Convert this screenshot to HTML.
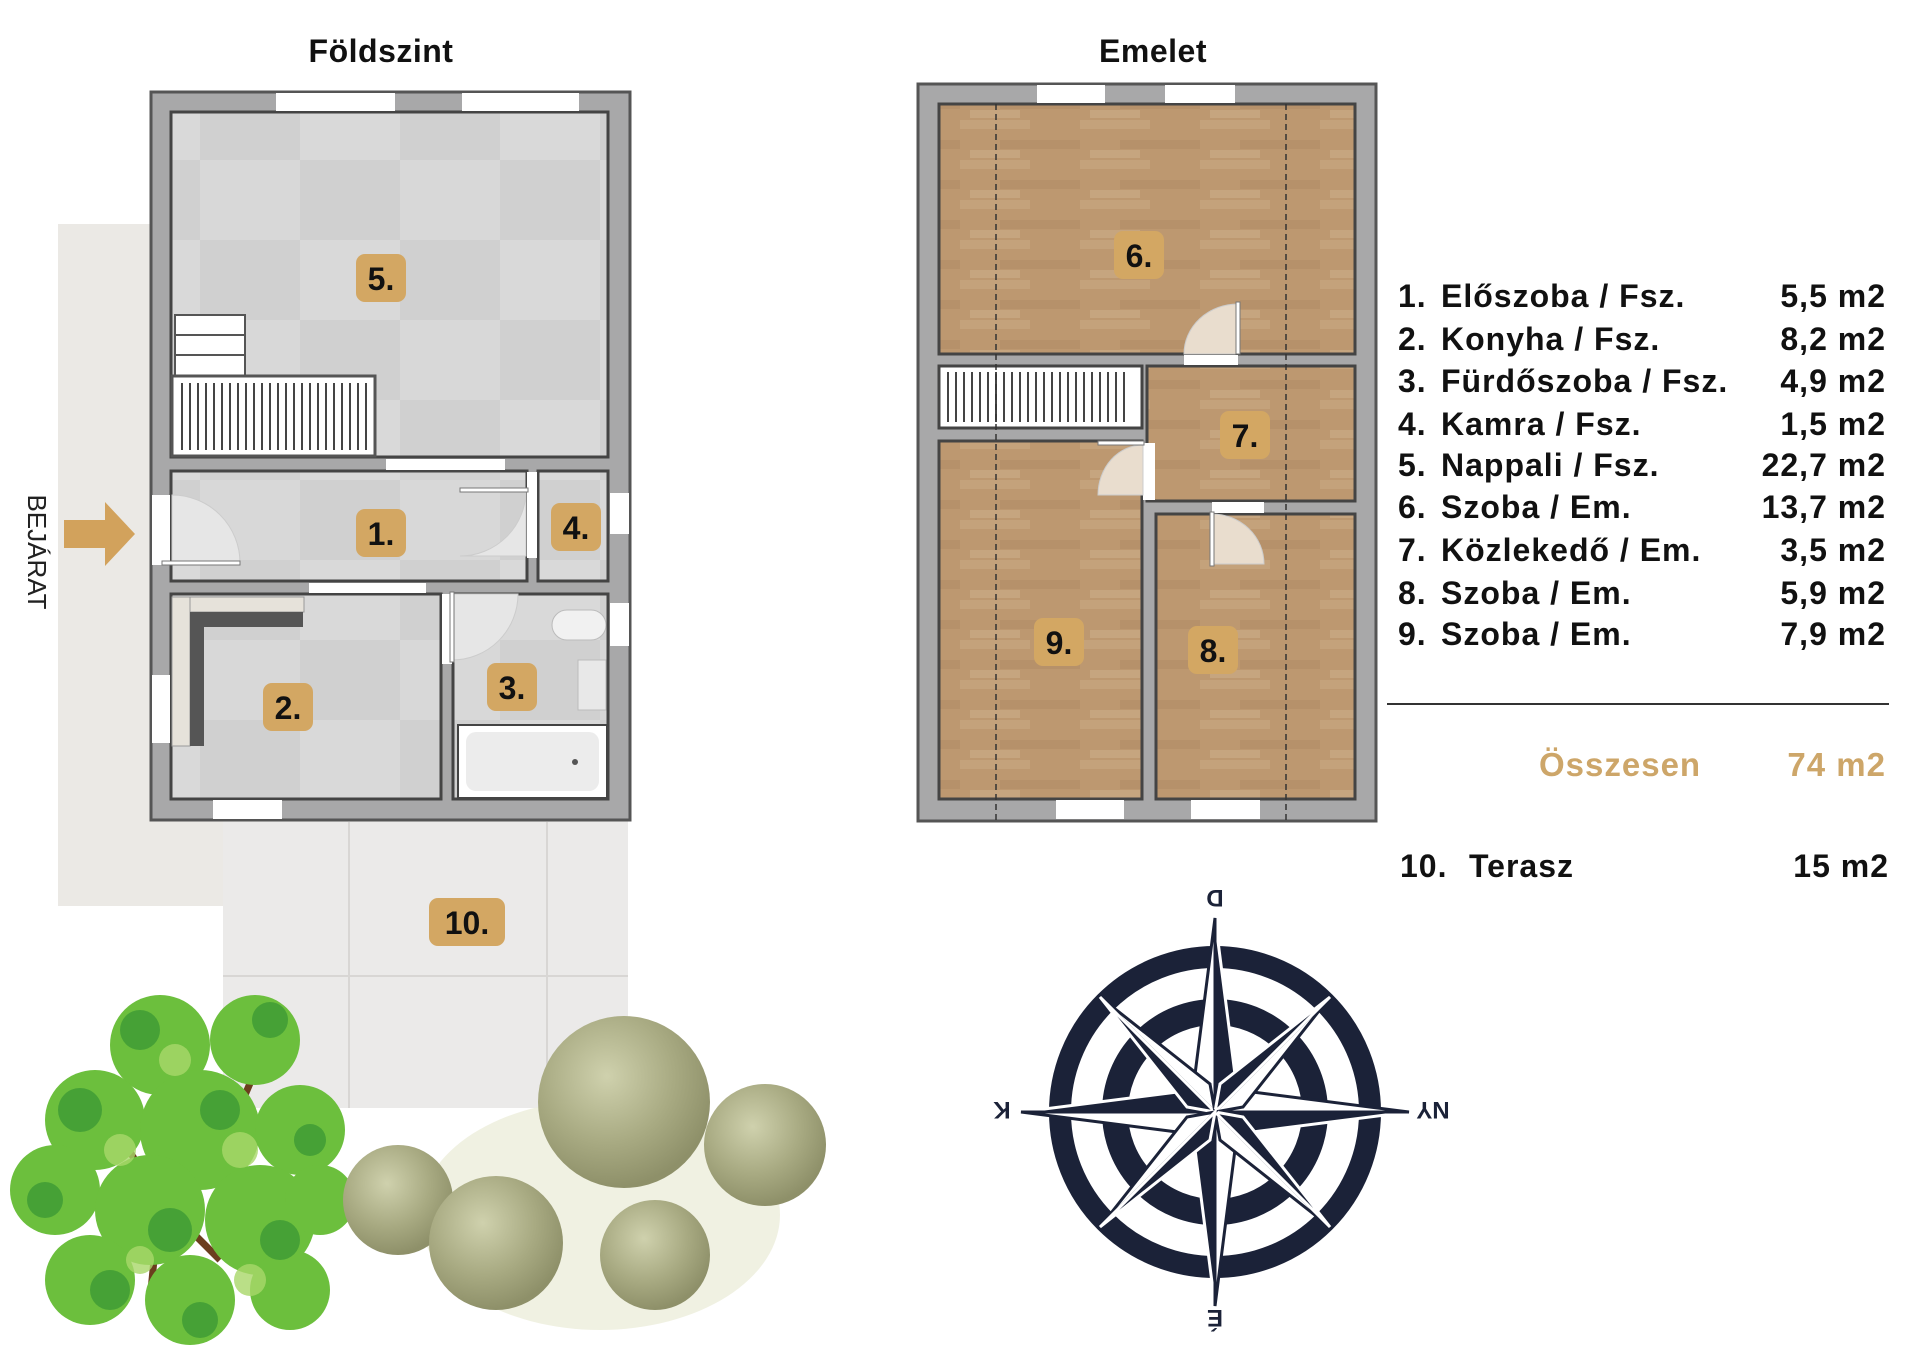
<!DOCTYPE html>
<html><head><meta charset="utf-8"><style>
html,body{margin:0;padding:0;background:#fff;}
svg{display:block;}
text{font-family:"Liberation Sans",sans-serif;}
</style></head><body>
<svg width="1920" height="1357" viewBox="0 0 1920 1357" xmlns="http://www.w3.org/2000/svg">
<defs>
<pattern id="tile" width="200" height="160" patternUnits="userSpaceOnUse">
<rect width="200" height="160" fill="#d0d0d0"/><rect width="100" height="80" fill="#d8d8d8"/><rect x="100" y="80" width="100" height="80" fill="#d9d9d9"/>
</pattern>
<pattern id="wood" width="120" height="40" patternUnits="userSpaceOnUse">
<rect width="120" height="40" fill="#bd9870"/><rect y="0" width="70" height="9" fill="#c4a27b"/><rect x="40" y="20" width="80" height="9" fill="#b6916a"/><rect x="10" y="30" width="50" height="8" fill="#c6a57f"/>
</pattern>
<radialGradient id="bush" cx="40%" cy="35%" r="65%"><stop offset="0" stop-color="#cfd1ad"/><stop offset="0.6" stop-color="#a8aa82"/><stop offset="1" stop-color="#8e9069"/></radialGradient>
</defs>

<text x="381" y="62" font-size="32" font-weight="bold" text-anchor="middle" fill="#111" letter-spacing="0.5">Földszint</text>
<text x="1153" y="62" font-size="32" font-weight="bold" text-anchor="middle" fill="#111" letter-spacing="0.5">Emelet</text>

<rect x="58" y="224" width="96" height="682" fill="#ebe9e5"/>
<rect x="58" y="820" width="170" height="86" fill="#ebe9e5"/>
<rect x="223" y="820" width="405" height="288" fill="#ebeae9"/>
<line x1="349" y1="822" x2="349" y2="1108" stroke="#d8d6d4" stroke-width="2"/>
<line x1="547" y1="822" x2="547" y2="1108" stroke="#d8d6d4" stroke-width="2"/>
<line x1="223" y1="976" x2="628" y2="976" stroke="#d8d6d4" stroke-width="2"/>

<polygon points="64,520 105,520 105,502 135,534 105,566 105,548 64,548" fill="#d2a25c"/>
<text transform="translate(28,552) rotate(90)" font-size="26" text-anchor="middle" fill="#222">BEJÁRAT</text>

<rect x="151" y="92" width="479" height="728" fill="#a8a8a9" stroke="#555" stroke-width="3"/>
<rect x="171" y="112" width="437" height="345" fill="url(#tile)" stroke="#444" stroke-width="3"/>
<rect x="171" y="471" width="356" height="110" fill="url(#tile)" stroke="#444" stroke-width="3"/>
<rect x="538" y="471" width="70" height="110" fill="url(#tile)" stroke="#444" stroke-width="3"/>
<rect x="171" y="594" width="270" height="205" fill="url(#tile)" stroke="#444" stroke-width="3"/>
<rect x="453" y="594" width="155" height="205" fill="url(#tile)" stroke="#444" stroke-width="3"/>
<rect x="276" y="93" width="119" height="18" fill="#fff"/>
<rect x="462" y="93" width="117" height="18" fill="#fff"/>
<rect x="386" y="459" width="119" height="11" fill="#fff"/>
<rect x="309" y="583" width="117" height="10" fill="#fff"/>
<rect x="213" y="800" width="69" height="19" fill="#fff"/>
<rect x="152" y="495" width="18" height="70" fill="#fff"/>
<rect x="152" y="675" width="18" height="68" fill="#fff"/>
<rect x="610" y="493" width="19" height="41" fill="#fff"/>
<rect x="610" y="603" width="19" height="43" fill="#fff"/>
<path d="M172,495 A68,68 0 0 1 240,563 L172,563 Z" fill="#e6e6e6" stroke="#ccc"/>
<rect x="162" y="561" width="78" height="4" fill="#fff" stroke="#777"/>
<rect x="527" y="472" width="10" height="86" fill="#fff"/>
<path d="M526,490 A66,66 0 0 1 460,556 L526,556 Z" fill="#e6e6e6" stroke="#ccc"/>
<rect x="460" y="488" width="68" height="4" fill="#fff" stroke="#777"/>
<rect x="442" y="594" width="10" height="70" fill="#fff"/>
<path d="M452,594 L518,594 A66,66 0 0 1 452,660 Z" fill="#e6e6e6" stroke="#ccc"/>
<rect x="450" y="592" width="4" height="70" fill="#fff" stroke="#777"/>
<rect x="175" y="315" width="70" height="61" fill="#fff" stroke="#555" stroke-width="2"/>
<line x1="175" y1="335" x2="245" y2="335" stroke="#555" stroke-width="2"/>
<line x1="175" y1="355" x2="245" y2="355" stroke="#555" stroke-width="2"/>
<rect x="172" y="376" width="203" height="80" fill="#fff" stroke="#555" stroke-width="3"/>
<g stroke="#444" stroke-width="2">
<line x1="182" y1="383" x2="182" y2="450"/><line x1="190" y1="383" x2="190" y2="450"/><line x1="198" y1="383" x2="198" y2="450"/><line x1="206" y1="383" x2="206" y2="450"/><line x1="214" y1="383" x2="214" y2="450"/><line x1="222" y1="383" x2="222" y2="450"/><line x1="230" y1="383" x2="230" y2="450"/><line x1="238" y1="383" x2="238" y2="450"/><line x1="246" y1="383" x2="246" y2="450"/><line x1="254" y1="383" x2="254" y2="450"/><line x1="262" y1="383" x2="262" y2="450"/><line x1="270" y1="383" x2="270" y2="450"/><line x1="278" y1="383" x2="278" y2="450"/><line x1="286" y1="383" x2="286" y2="450"/><line x1="294" y1="383" x2="294" y2="450"/><line x1="302" y1="383" x2="302" y2="450"/><line x1="310" y1="383" x2="310" y2="450"/><line x1="318" y1="383" x2="318" y2="450"/><line x1="326" y1="383" x2="326" y2="450"/><line x1="334" y1="383" x2="334" y2="450"/><line x1="342" y1="383" x2="342" y2="450"/><line x1="350" y1="383" x2="350" y2="450"/><line x1="358" y1="383" x2="358" y2="450"/><line x1="366" y1="383" x2="366" y2="450"/>
</g>
<rect x="172" y="597" width="132" height="15" fill="#e6e2da" stroke="#999"/>
<rect x="172" y="597" width="18" height="149" fill="#e6e2da" stroke="#999"/>
<path d="M190,612 L303,612 L303,627 L204,627 L204,746 L190,746 Z" fill="#555"/>
<rect x="552" y="610" width="54" height="30" rx="15" fill="#f1f1f1" stroke="#bbb"/>
<rect x="578" y="660" width="28" height="50" fill="#e8e8e8" stroke="#bbb"/>
<rect x="458" y="725" width="149" height="73" fill="#fff" stroke="#444" stroke-width="2"/>
<rect x="466" y="732" width="133" height="59" rx="10" fill="#ececec"/>
<circle cx="575" cy="762" r="3" fill="#555"/>

<rect x="918" y="84" width="458" height="737" fill="#a8a8a9" stroke="#555" stroke-width="3"/>
<rect x="939" y="104" width="416" height="250" fill="url(#wood)" stroke="#444" stroke-width="3"/>
<rect x="939" y="366" width="203" height="62" fill="#fff" stroke="#444" stroke-width="3"/>
<g stroke="#444" stroke-width="2">
<line x1="948" y1="372" x2="948" y2="422"/><line x1="956" y1="372" x2="956" y2="422"/><line x1="964" y1="372" x2="964" y2="422"/><line x1="972" y1="372" x2="972" y2="422"/><line x1="980" y1="372" x2="980" y2="422"/><line x1="988" y1="372" x2="988" y2="422"/><line x1="996" y1="372" x2="996" y2="422"/><line x1="1004" y1="372" x2="1004" y2="422"/><line x1="1012" y1="372" x2="1012" y2="422"/><line x1="1020" y1="372" x2="1020" y2="422"/><line x1="1028" y1="372" x2="1028" y2="422"/><line x1="1036" y1="372" x2="1036" y2="422"/><line x1="1044" y1="372" x2="1044" y2="422"/><line x1="1052" y1="372" x2="1052" y2="422"/><line x1="1060" y1="372" x2="1060" y2="422"/><line x1="1068" y1="372" x2="1068" y2="422"/><line x1="1076" y1="372" x2="1076" y2="422"/><line x1="1084" y1="372" x2="1084" y2="422"/><line x1="1092" y1="372" x2="1092" y2="422"/><line x1="1100" y1="372" x2="1100" y2="422"/><line x1="1108" y1="372" x2="1108" y2="422"/><line x1="1116" y1="372" x2="1116" y2="422"/><line x1="1124" y1="372" x2="1124" y2="422"/>
</g>
<rect x="1147" y="366" width="208" height="135" fill="url(#wood)" stroke="#444" stroke-width="3"/>
<rect x="939" y="441" width="203" height="358" fill="url(#wood)" stroke="#444" stroke-width="3"/>
<rect x="1156" y="514" width="199" height="285" fill="url(#wood)" stroke="#444" stroke-width="3"/>
<rect x="1037" y="85" width="68" height="18" fill="#fff"/>
<rect x="1165" y="85" width="70" height="18" fill="#fff"/>
<rect x="1056" y="800" width="68" height="19" fill="#fff"/>
<rect x="1191" y="800" width="69" height="19" fill="#fff"/>
<rect x="1184" y="355" width="54" height="10" fill="#fff"/>
<path d="M1238,304 A54,50 0 0 0 1184,354 L1238,354 Z" fill="#e9ddce" stroke="#ccc"/>
<rect x="1236" y="302" width="4" height="52" fill="#fff" stroke="#777"/>
<rect x="1143" y="443" width="12" height="57" fill="#fff"/>
<path d="M1143,445 A45,50 0 0 0 1098,495 L1143,495 Z" fill="#e9ddce" stroke="#ccc"/>
<rect x="1098" y="441" width="46" height="4" fill="#fff" stroke="#777"/>
<rect x="1212" y="502" width="52" height="11" fill="#fff"/>
<path d="M1212,514 A52,50 0 0 1 1264,564 L1212,564 Z" fill="#e9ddce" stroke="#ccc"/>
<rect x="1210" y="512" width="4" height="54" fill="#fff" stroke="#777"/>
<line x1="996" y1="104" x2="996" y2="820" stroke="#333" stroke-width="1.5" stroke-dasharray="6,4"/>
<line x1="1286" y1="104" x2="1286" y2="820" stroke="#333" stroke-width="1.5" stroke-dasharray="6,4"/>

<g font-size="32" font-weight="bold" text-anchor="middle" fill="#111">
<rect x="356" y="254" width="50" height="48" rx="9" fill="#d3a763"/><text x="381" y="290">5.</text>
<rect x="356" y="509" width="50" height="48" rx="9" fill="#d3a763"/><text x="381" y="545">1.</text>
<rect x="551" y="503" width="50" height="48" rx="9" fill="#d3a763"/><text x="576" y="539">4.</text>
<rect x="263" y="683" width="50" height="48" rx="9" fill="#d3a763"/><text x="288" y="719">2.</text>
<rect x="487" y="663" width="50" height="48" rx="9" fill="#d3a763"/><text x="512" y="699">3.</text>
<rect x="429" y="898" width="76" height="48" rx="9" fill="#d3a763"/><text x="467" y="934">10.</text>
<rect x="1114" y="231" width="50" height="48" rx="9" fill="#d3a763"/><text x="1139" y="267">6.</text>
<rect x="1220" y="411" width="50" height="48" rx="9" fill="#d3a763"/><text x="1245" y="447">7.</text>
<rect x="1034" y="618" width="50" height="48" rx="9" fill="#d3a763"/><text x="1059" y="654">9.</text>
<rect x="1188" y="626" width="50" height="48" rx="9" fill="#d3a763"/><text x="1213" y="662">8.</text>
</g>

<g font-size="32" font-weight="bold" fill="#111" letter-spacing="1">
<text x="1398" y="307">1.</text><text x="1441" y="307">Előszoba / Fsz.</text><text x="1886" y="307" text-anchor="end">5,5 m2</text>
<text x="1398" y="350">2.</text><text x="1441" y="350">Konyha / Fsz.</text><text x="1886" y="350" text-anchor="end">8,2 m2</text>
<text x="1398" y="392">3.</text><text x="1441" y="392">Fürdőszoba / Fsz.</text><text x="1886" y="392" text-anchor="end">4,9 m2</text>
<text x="1398" y="435">4.</text><text x="1441" y="435">Kamra / Fsz.</text><text x="1886" y="435" text-anchor="end">1,5 m2</text>
<text x="1398" y="476">5.</text><text x="1441" y="476">Nappali / Fsz.</text><text x="1886" y="476" text-anchor="end">22,7 m2</text>
<text x="1398" y="518">6.</text><text x="1441" y="518">Szoba / Em.</text><text x="1886" y="518" text-anchor="end">13,7 m2</text>
<text x="1398" y="561">7.</text><text x="1441" y="561">Közlekedő / Em.</text><text x="1886" y="561" text-anchor="end">3,5 m2</text>
<text x="1398" y="604">8.</text><text x="1441" y="604">Szoba / Em.</text><text x="1886" y="604" text-anchor="end">5,9 m2</text>
<text x="1398" y="645">9.</text><text x="1441" y="645">Szoba / Em.</text><text x="1886" y="645" text-anchor="end">7,9 m2</text>
<text x="1400" y="877">10.</text><text x="1469" y="877">Terasz</text><text x="1889" y="877" text-anchor="end">15 m2</text>
</g>
<line x1="1387" y1="704" x2="1889" y2="704" stroke="#333" stroke-width="2"/>
<g font-size="33" font-weight="bold" fill="#cda669" letter-spacing="1">
<text x="1539" y="776">Összesen</text>
<text x="1886" y="776" text-anchor="end">74 m2</text>
</g>

<g transform="translate(1215,1112)" fill="#1b2238">
<circle r="155" fill="none" stroke="#1b2238" stroke-width="22"/>
<circle r="100" fill="none" stroke="#1b2238" stroke-width="26"/>
<g stroke="#fff" stroke-width="3">
<polygon points="0,-194 22,-22 0,0"/><polygon points="0,-194 -22,-22 0,0" fill="#fff" stroke="#1b2238"/>
<polygon points="0,194 -22,22 0,0"/><polygon points="0,194 22,22 0,0" fill="#fff" stroke="#1b2238"/>
<polygon points="-194,0 -22,-22 0,0"/><polygon points="-194,0 -22,22 0,0" fill="#fff" stroke="#1b2238"/>
<polygon points="194,0 22,22 0,0"/><polygon points="194,0 22,-22 0,0" fill="#fff" stroke="#1b2238"/>
<polygon points="-115,-115 -5,-28 0,0" fill="#fff" stroke="#1b2238"/><polygon points="-115,-115 -28,-5 0,0"/>
<polygon points="115,-115 28,-5 0,0" fill="#fff" stroke="#1b2238"/><polygon points="115,-115 5,-28 0,0"/>
<polygon points="115,115 5,28 0,0" fill="#fff" stroke="#1b2238"/><polygon points="115,115 28,5 0,0"/>
<polygon points="-115,115 -28,5 0,0" fill="#fff" stroke="#1b2238"/><polygon points="-115,115 -5,28 0,0"/>
</g>
<g font-size="24" font-weight="bold" text-anchor="middle" fill="#1b2238">
<text transform="translate(0,-222) rotate(180)">D</text>
<text transform="translate(0,198) rotate(180)">É</text>
<text transform="translate(-213,-10) rotate(180)">K</text>
<text transform="translate(218,-10) rotate(180)">NY</text>
</g>
</g>

<g>
<path d="M150,1300 L160,1200 L110,1120 M160,1200 L230,1130 L260,1060 M160,1200 L220,1260 M200,1160 L180,1060" stroke="#6b3e1e" stroke-width="7" fill="none"/>
<g fill="#6cbf3d">
<circle cx="160" cy="1045" r="50"/><circle cx="255" cy="1040" r="45"/><circle cx="95" cy="1120" r="50"/><circle cx="200" cy="1130" r="60"/><circle cx="300" cy="1130" r="45"/><circle cx="55" cy="1190" r="45"/><circle cx="150" cy="1210" r="55"/><circle cx="260" cy="1220" r="55"/><circle cx="90" cy="1280" r="45"/><circle cx="190" cy="1300" r="45"/><circle cx="290" cy="1290" r="40"/><circle cx="320" cy="1200" r="35"/>
</g>
<g fill="#3d9a35" opacity="0.8">
<circle cx="140" cy="1030" r="20"/><circle cx="270" cy="1020" r="18"/><circle cx="80" cy="1110" r="22"/><circle cx="220" cy="1110" r="20"/><circle cx="45" cy="1200" r="18"/><circle cx="170" cy="1230" r="22"/><circle cx="280" cy="1240" r="20"/><circle cx="110" cy="1290" r="20"/><circle cx="200" cy="1320" r="18"/><circle cx="310" cy="1140" r="16"/>
</g>
<g fill="#a9d86a" opacity="0.8">
<circle cx="175" cy="1060" r="16"/><circle cx="240" cy="1150" r="18"/><circle cx="120" cy="1150" r="16"/><circle cx="250" cy="1280" r="16"/><circle cx="140" cy="1260" r="14"/>
</g>
</g>
<g>
<ellipse cx="600" cy="1215" rx="180" ry="115" fill="#eceedb" opacity="0.8"/>
<circle cx="624" cy="1102" r="86" fill="url(#bush)"/>
<circle cx="765" cy="1145" r="61" fill="url(#bush)"/>
<circle cx="398" cy="1200" r="55" fill="url(#bush)"/>
<circle cx="496" cy="1243" r="67" fill="url(#bush)"/>
<circle cx="655" cy="1255" r="55" fill="url(#bush)"/>
</g>
</svg>
</body></html>
